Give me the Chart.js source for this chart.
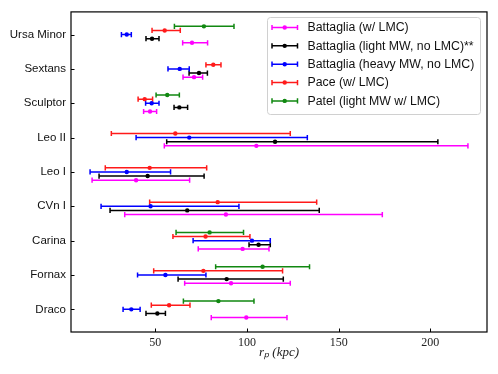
<!DOCTYPE html>
<html>
<head>
<meta charset="utf-8">
<script src="https://cdn.jsdelivr.net/npm/chart.js@4.4.0/dist/chart.umd.min.js"></script>
<style>
html,body{margin:0;padding:0;background:#fff;}
canvas{display:block;}
</style>
</head>
<body>
<canvas id="c" width="498" height="374"></canvas>
<script>
// Galaxies, bottom (0) to top (8)
const categories = ['Draco','Fornax','Carina','CVn I','Leo I','Leo II','Sculptor','Sextans','Ursa Minor'];
const xTicks = [50, 100, 150, 200];

// Battaglia (w/ LMC)
const battLMC    = [99.6, 91.3, 97.6, 88.5, 39.5, 105.1, 47.1, 71.1, 70.0];
const battLMCLo  = [80.5, 66.0, 73.4, 33.3, 15.5, 54.9, 43.6, 65.1, 64.9];
const battLMCHi  = [121.8, 123.6, 112.0, 173.8, 68.7, 220.5, 50.7, 75.8, 78.5];
// Battaglia (light MW, no LMC)**
const battLight   = [51.1, 88.9, 106.3, 67.4, 45.8, 115.3, 63.1, 73.8, 48.2];
const battLightLo = [44.9, 62.4, 101.1, 25.3, 19.3, 56.2, 60.2, 68.4, 44.9];
const battLightHi = [55.5, 119.8, 112.7, 139.4, 76.6, 204.1, 67.6, 78.4, 52.0];
// Battaglia (heavy MW, no LMC)
const battHeavy   = [36.9, 55.5, 102.7, 47.4, 34.4, 68.5, 48.0, 63.3, 34.4];
const battHeavyLo = [32.4, 40.3, 70.6, 20.4, 14.4, 39.5, 44.7, 56.9, 31.5];
const battHeavyHi = [41.7, 77.6, 112.7, 95.6, 58.3, 132.9, 52.0, 68.5, 36.9];
// Pace (w/ LMC)
const pace   = [57.5, 76.2, 77.4, 84.0, 46.9, 60.9, 44.2, 81.6, 55.1];
const paceLo = [47.8, 49.1, 59.6, 46.9, 22.7, 26.0, 40.6, 77.6, 48.2];
const paceHi = [68.9, 119.4, 101.6, 138.0, 78.0, 123.6, 48.5, 85.8, 63.6];
// Patel (light MW w/ LMC)
const patel   = [84.4, 108.5, 79.6, null, null, null, 56.5, null, 76.5];
const patelLo = [65.3, 82.9, 61.3, null, null, null, 50.4, null, 60.4];
const patelHi = [103.8, 134.1, 98.1, null, null, null, 63.1, null, 92.9];

const seriesNames = ['Battaglia (w/ LMC)', 'Battaglia (light MW, no LMC)**', 'Battaglia (heavy MW, no LMC)', 'Pace (w/ LMC)', 'Patel (light MW w/ LMC)'];
const seriesColors = ['#ff00ff', '#000000', '#0000ff', '#ff1a1a', '#118811'];
const seriesOffsets = [-0.24, -0.12, 0, 0.12, 0.24];
const seriesData = [
  [battLMC, battLMCLo, battLMCHi],
  [battLight, battLightLo, battLightHi],
  [battHeavy, battHeavyLo, battHeavyHi],
  [pace, paceLo, paceHi],
  [patel, patelLo, patelHi]
];

const datasets = seriesData.map((s, k) => {
  const pts = [];
  categories.forEach((c, i) => {
    if (s[0][i] === null) return;
    pts.push({x: s[0][i], y: i + seriesOffsets[k], lo: s[1][i], hi: s[2][i]});
  });
  return {
    label: seriesNames[k],
    data: pts,
    borderColor: seriesColors[k],
    backgroundColor: seriesColors[k],
    pointRadius: 2.2,
    pointBorderWidth: 0,
    showLine: false
  };
});

const errorBars = {
  id: 'errorBars',
  beforeDatasetsDraw(chart) {
    const c = chart.ctx, xs = chart.scales.x;
    chart.data.datasets.forEach((ds, k) => {
      const meta = chart.getDatasetMeta(k);
      c.save();
      c.strokeStyle = ds.borderColor;
      c.lineWidth = 1.5;
      meta.data.forEach((el, j) => {
        const r = ds.data[j];
        const x1 = xs.getPixelForValue(r.lo), x2 = xs.getPixelForValue(r.hi);
        const y = el.y;
        c.beginPath();
        c.moveTo(x1, y); c.lineTo(x2, y);
        c.moveTo(x1, y - 2.6); c.lineTo(x1, y + 2.6);
        c.moveTo(x2, y - 2.6); c.lineTo(x2, y + 2.6);
        c.stroke();
      });
      c.restore();
    });
  }
};

const frameAndLegend = {
  id: 'frameAndLegend',
  afterDraw(chart) {
    const c = chart.ctx, a = chart.chartArea;
    const xs = chart.scales.x, ys = chart.scales.y;
    c.save();
    // inward ticks
    c.strokeStyle = '#000'; c.lineWidth = 1;
    xTicks.forEach(v => {
      const px = Math.round(xs.getPixelForValue(v)) + 0.5;
      c.beginPath(); c.moveTo(px, a.bottom); c.lineTo(px, a.bottom - 3.5); c.stroke();
    });
    categories.forEach((n, i) => {
      const py = Math.round(ys.getPixelForValue(i)) + 0.5;
      c.beginPath(); c.moveTo(a.left, py); c.lineTo(a.left + 3.5, py); c.stroke();
    });
    // frame
    c.lineWidth = 1.2;
    c.strokeRect(a.left, a.top, a.right - a.left, a.bottom - a.top);
    // legend
    const bx = 267.5, by = 17.5, bw = 213, bh = 97, r = 3;
    c.beginPath();
    c.moveTo(bx + r, by); c.lineTo(bx + bw - r, by); c.quadraticCurveTo(bx + bw, by, bx + bw, by + r);
    c.lineTo(bx + bw, by + bh - r); c.quadraticCurveTo(bx + bw, by + bh, bx + bw - r, by + bh);
    c.lineTo(bx + r, by + bh); c.quadraticCurveTo(bx, by + bh, bx, by + bh - r);
    c.lineTo(bx, by + r); c.quadraticCurveTo(bx, by, bx + r, by);
    c.closePath();
    c.fillStyle = 'rgba(255,255,255,0.85)'; c.fill();
    c.strokeStyle = '#d0d0d0'; c.lineWidth = 1; c.stroke();
    c.font = '12.3px "Liberation Sans", Arial, sans-serif';
    c.textBaseline = 'middle';
    seriesNames.forEach((n, i) => {
      const y = 27.5 + i * 18.35;
      c.strokeStyle = seriesColors[i]; c.lineWidth = 1.5;
      c.beginPath();
      c.moveTo(272, y); c.lineTo(297.5, y);
      c.moveTo(272, y - 2.6); c.lineTo(272, y + 2.6);
      c.moveTo(297.5, y - 2.6); c.lineTo(297.5, y + 2.6);
      c.stroke();
      c.fillStyle = seriesColors[i];
      c.beginPath(); c.arc(284.7, y, 2.2, 0, Math.PI * 2); c.fill();
      c.fillStyle = '#111';
      c.fillText(n, 307.5, y + 0.5);
    });
    c.restore();
  }
};

new Chart(document.getElementById('c'), {
  type: 'scatter',
  data: { datasets },
  options: {
    responsive: false,
    animation: false,
    devicePixelRatio: 1,
    layout: { padding: { left: 0, top: 11, right: 11, bottom: 0 } },
    plugins: { legend: { display: false }, tooltip: { enabled: false } },
    scales: {
      x: {
        type: 'linear', min: 4, max: 230.9,
        afterBuildTicks: s => { s.ticks = xTicks.map(v => ({ value: v })); },
        afterFit: s => { s.height = 42; },
        grid: { display: false, drawTicks: false },
        border: { display: false },
        ticks: { color: '#222', padding: 4, font: { family: '"Liberation Serif", serif', size: 12 } },
        title: { display: true, text: 'rₚ (kpc)', color: '#222', padding: { top: 0, bottom: 14 },
                 font: { family: '"Liberation Serif", serif', style: 'italic', size: 13 } }
      },
      y: {
        type: 'linear', min: -0.66, max: 8.66,
        afterBuildTicks: s => { s.ticks = categories.map((c, i) => ({ value: i })); },
        afterFit: s => { s.width = 71; },
        grid: { display: false, drawTicks: false },
        border: { display: false },
        ticks: { color: '#111', padding: 5, font: { family: '"Liberation Sans", Arial, sans-serif', size: 11.5 },
                 callback: v => categories[v] }
      }
    }
  },
  plugins: [errorBars, frameAndLegend]
});
</script>
</body>
</html>
